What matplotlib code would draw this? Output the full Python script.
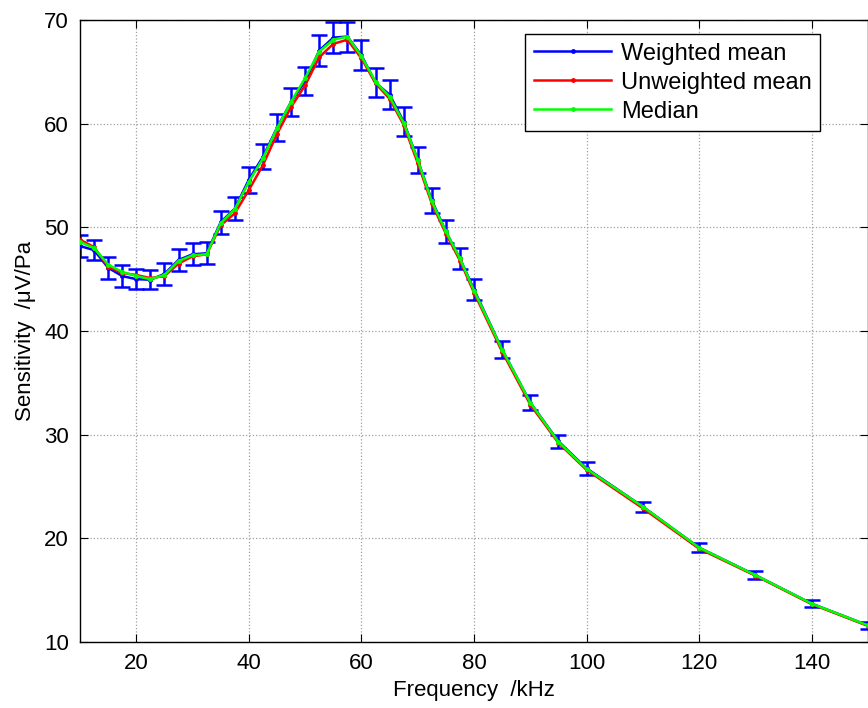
import numpy as np
import matplotlib
matplotlib.use('Agg')
import matplotlib.pyplot as plt

plt.rcParams['font.family'] = ['Liberation Sans', 'DejaVu Sans']

# frequencies in kHz
freq = [10, 12.5, 15, 17.5, 20, 22.5, 25, 27.5, 30, 32.5, 35, 37.5, 40, 42.5,
        45, 47.5, 50, 52.5, 55, 57.5, 60, 62.5, 65, 67.5, 70, 72.5, 75, 77.5,
        80, 85, 90, 95, 100, 110, 120, 130, 140, 150]

weighted = [48.2, 47.8, 46.1, 45.3, 45.0, 44.95, 45.5, 46.85, 47.4, 47.5, 50.5,
            51.8, 54.6, 56.8, 59.6, 62.1, 64.1, 67.05, 68.3, 68.4, 66.6, 63.95,
            62.8, 60.2, 56.5, 52.6, 49.6, 47.0, 44.0, 38.2, 33.1, 29.35, 26.75,
            23.05, 19.1, 16.45, 13.7, 11.6]

unweighted = [48.8, 48.1, 46.2, 45.6, 45.4, 45.1, 45.3, 46.5, 47.2, 47.4, 50.2,
              51.35, 53.6, 56.0, 59.0, 61.6, 63.7, 66.4, 67.7, 68.1, 66.3, 63.9,
              62.4, 59.9, 56.2, 52.3, 49.4, 46.8, 43.7, 38.0, 32.9, 29.2, 26.6,
              22.9, 19.0, 16.4, 13.65, 11.55]

median = [48.6, 48.0, 46.4, 45.7, 45.3, 45.0, 45.4, 46.75, 47.3, 47.4, 50.4,
          51.75, 54.4, 56.65, 59.55, 62.1, 64.4, 66.95, 68.1, 68.4, 66.5, 64.05,
          62.6, 60.1, 56.5, 52.5, 49.6, 47.0, 43.9, 38.2, 33.1, 29.3, 26.7,
          23.05, 19.1, 16.45, 13.7, 11.6]

# half-width of the error bars on the weighted mean
err = [1.05, 0.96, 1.04, 1.05, 0.96, 0.93, 1.05, 1.03, 1.05, 1.05, 1.1, 1.12,
       1.25, 1.2, 1.29, 1.37, 1.38, 1.5, 1.5, 1.45, 1.45, 1.4, 1.37, 1.37,
       1.24, 1.17, 1.1, 1.05, 1.0, 0.85, 0.72, 0.6, 0.6, 0.5, 0.42, 0.38,
       0.32, 0.3]

fig = plt.figure(figsize=(8.68, 7.08), dpi=100)
ax = fig.add_axes([80/868, 66/708, 788/868, 622/708])

ax.errorbar(freq, weighted, yerr=err, fmt='none', ecolor='#0000ff',
            capsize=6, elinewidth=1.8, capthick=1.8, zorder=2)
l1, = ax.plot(freq, weighted, color='#0000ff', lw=1.8, marker='.', ms=5,
              zorder=3, label='Weighted mean')
l2, = ax.plot(freq, unweighted, color='#ff0000', lw=1.8, marker='.', ms=5,
              zorder=3, label='Unweighted mean')
l3, = ax.plot(freq, median, color='#00ff00', lw=1.8, marker='.', ms=5,
              zorder=4, label='Median')

ax.set_xlim(10, 150)
ax.set_ylim(10, 70)
ax.set_xticks(np.arange(20, 150, 20))
ax.set_yticks(np.arange(10, 71, 10))
ax.grid(True, color='#a0a0a0', ls=':', lw=0.9)
ax.tick_params(direction='in', top=True, right=True, labelsize=16,
               length=6, pad=8)
for s in ax.spines.values():
    s.set_linewidth(1.0)

ax.set_xlabel('Frequency  /kHz', fontsize=16, labelpad=4)
ax.set_ylabel('Sensitivity  /\u03bcV/Pa', fontsize=16, labelpad=6)

leg = ax.legend(handles=[l1, l2, l3], loc='upper right',
                bbox_to_anchor=(0.939, 0.977), borderaxespad=0,
                fancybox=False, fontsize=17, handlelength=3.3, numpoints=1,
                edgecolor='black', framealpha=1, borderpad=0.35,
                labelspacing=0.3, handletextpad=0.4)
leg.get_frame().set_linewidth(1.0)

fig.savefig('out.png', dpi=100)
